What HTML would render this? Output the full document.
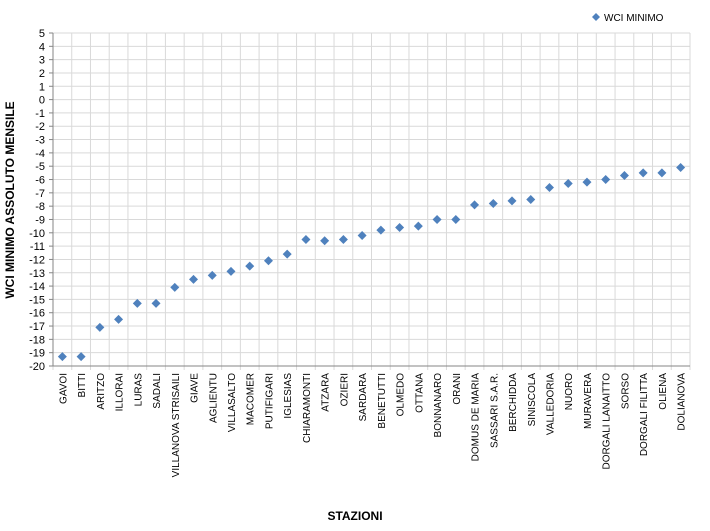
<!DOCTYPE html>
<html><head><meta charset="utf-8"><style>
body{margin:0;background:#fff;font-family:"Liberation Sans","DejaVu Sans",sans-serif}
</style></head><body>
<svg id="c" width="710" height="526" xmlns="http://www.w3.org/2000/svg">
<g id="grid"></g>
<g id="axes"></g>
<g id="marks"></g>
<text x="14" y="200" transform="rotate(-90 14 200)" text-anchor="middle" font-size="12" font-weight="bold" fill="#000">WCI MINIMO ASSOLUTO MENSILE</text>
<text x="355" y="520" text-anchor="middle" font-size="12" font-weight="bold" fill="#000">STAZIONI</text>
<g>
<path d="M596 13 L600 17 L596 21 L592 17 Z" fill="#4f81bd"/>
<text x="604" y="21" font-size="10" fill="#000">WCI MINIMO</text>
</g>
</svg>
<script>
const categories=["GAVOI","BITTI","ARITZO","ILLORAI","LURAS","SADALI","VILLANOVA STRISAILI","GIAVE","AGLIENTU","VILLASALTO","MACOMER","PUTIFIGARI","IGLESIAS","CHIARAMONTI","ATZARA","OZIERI","SARDARA","BENETUTTI","OLMEDO","OTTANA","BONNANARO","ORANI","DOMUS DE MARIA","SASSARI S.A.R.","BERCHIDDA","SINISCOLA","VALLEDORIA","NUORO","MURAVERA","DORGALI LANAITTO","SORSO","DORGALI FILITTA","OLIENA","DOLIANOVA"];
const values=[-19.3,-19.3,-17.1,-16.5,-15.3,-15.3,-14.1,-13.5,-13.2,-12.9,-12.5,-12.1,-11.6,-10.5,-10.6,-10.5,-10.2,-9.8,-9.6,-9.5,-9.0,-9.0,-7.9,-7.8,-7.6,-7.5,-6.6,-6.3,-6.2,-6.0,-5.7,-5.5,-5.5,-5.1];
const yTicks=[5,4,3,2,1,0,-1,-2,-3,-4,-5,-6,-7,-8,-9,-10,-11,-12,-13,-14,-15,-16,-17,-18,-19,-20];
const NS="http://www.w3.org/2000/svg";
const L=53,R=690,T=33,B=366,yMax=5,yMin=-20;
const step=(R-L)/categories.length;
function xs(i){return L+step*(i+0.5);}
function ys(v){return T+(yMax-v)/(yMax-yMin)*(B-T);}
function mk(t,a,p){const e=document.createElementNS(NS,t);for(const k in a)e.setAttribute(k,a[k]);p.appendChild(e);return e;}
const grid=document.getElementById('grid'),axes=document.getElementById('axes'),marks=document.getElementById('marks');
yTicks.forEach(v=>{
 const y=ys(v);
 const ln=mk('line',{x1:L,x2:R,y1:y,y2:y,stroke:'#d9d9d9','stroke-width':1},grid);
 
 
 const tk=mk('line',{x1:L-4,x2:L,y1:y,y2:y,stroke:'#868686'},axes);
 
 
 const t=mk('text',{x:L-8,y:y+4,'text-anchor':'end','font-size':11,fill:'#000'},axes);
 t.textContent=v;
 
 
});
for(let i=0;i<=categories.length;i++){
 const x=L+step*i;
 const ln=mk('line',{x1:x,x2:x,y1:T,y2:B+4,stroke:'#d9d9d9'},grid);
 
 
}
const ya=mk('line',{x1:L,x2:L,y1:T,y2:B,stroke:'#868686'},axes);


const xa=mk('line',{x1:L,x2:R,y1:B,y2:B,stroke:'#868686'},axes);


categories.forEach((c,i)=>{
 const x=xs(i)+4,y=B+7;
 const t=mk('text',{x:x,y:y,'text-anchor':'end','font-size':10,fill:'#000',transform:`rotate(-90 ${x} ${y})`},axes);
 t.textContent=c;
 
 
});
values.forEach((v,i)=>{
 const x=xs(i),y=ys(v);
 const p=mk('path',{d:`M${x} ${y-4.5} L${x+4.5} ${y} L${x} ${y+4.5} L${x-4.5} ${y} Z`,fill:'#4f81bd'},marks);
 
 
});
</script>
</body></html>
